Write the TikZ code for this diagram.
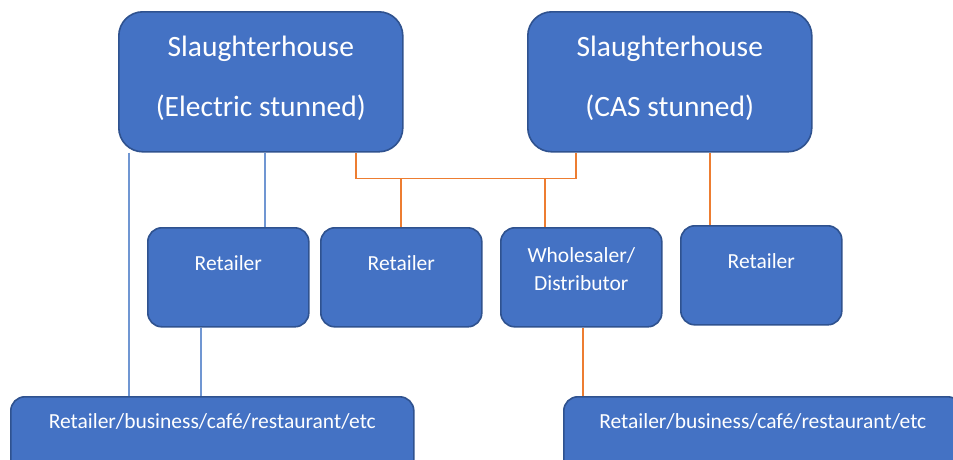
\documentclass[tikz,border=0pt]{standalone}
\usepackage{fontspec}
\setmainfont{Carlito}
\usetikzlibrary{positioning, calc}

\definecolor{boxfill}{HTML}{4472C4}
\definecolor{boxdraw}{HTML}{2F528F}
\definecolor{linkblue}{HTML}{7096D2}
\definecolor{linkorange}{HTML}{ED7D31}

\begin{document}
\begin{tikzpicture}[
    x=1pt, y=-1pt,
    box/.style={
        rectangle,
        fill=boxfill,
        draw=boxdraw,
        line width=1.6pt,
        text=white,
        inner sep=0pt,
        align=center,
        anchor=north west
    },
    plant/.style={
        box,
        rounded corners=24pt,
        minimum width=284pt,
        minimum height=140pt,
        font=\fontsize{29.5}{60}\selectfont,
        text height=105pt,
        text depth=35pt
    },
    shop/.style={
        box,
        rounded corners=14pt,
        minimum width=161pt,
        minimum height=99pt,
        font=\fontsize{21.5}{28}\selectfont,
        text height=43pt,
        text depth=56pt
    },
    outlet/.style={
        box,
        rounded corners=14pt,
        minimum width=403pt,
        minimum height=90pt,
        font=\fontsize{21.5}{28}\selectfont,
        text height=32pt,
        text depth=58pt
    },
    bluelink/.style={
        draw=linkblue,
        line width=1.2pt
    },
    orangelink/.style={
        draw=linkorange,
        line width=1.2pt
    }
]
    \clip (0,0) rectangle (953,459);

    % Slaughterhouses
    \node[plant] (sh1) at (118,11) {Slaughterhouse\\(Electric stunned)};
    \node[plant] (sh2) at (527,11) {Slaughterhouse\\(CAS stunned)};

    % Middle row
    \node[shop] (ret1) at (147,227) {Retailer};
    \node[shop] (ret2) at (320,227) {Retailer};
    \node[shop, text height=63pt, text depth=36pt] (who) at (500,227) {Wholesaler/\\Distributor};
    \node[shop] (ret3) at (680,225) {Retailer};

    % Bottom row
    \node[outlet] (bot1) at (10,396) {Retailer/business/café/restaurant/etc};
    \node[outlet, minimum width=398pt] (bot2) at (563,396) {Retailer/business/café/restaurant/etc};

    % Electric stunned links
    \draw[bluelink] (sh1.south west) ++(11,0) coordinate (b1) -- (b1 |- bot1.north);
    \draw[bluelink] (sh1.south west) ++(147,0) coordinate (b2) -- (b2 |- ret1.north);
    \draw[bluelink] (ret1.south west) ++(54,0) coordinate (b3) -- (b3 |- bot1.north);

    % CAS stunned links
    \draw[orangelink] (sh1.south west) ++(238,0) -- ++(0,26) coordinate (bus) -| ([xshift=49pt]sh2.south west);
    \draw[orangelink] (ret2.north west) ++(81,0) coordinate (o1) -- (o1 |- bus);
    \draw[orangelink] (who.north west) ++(45,0) coordinate (o2) -- (o2 |- bus);
    \draw[orangelink] (sh2.south west) ++(183,0) coordinate (o3) -- (o3 |- ret3.north);
    \draw[orangelink] (who.south west) ++(83,0) coordinate (o4) -- (o4 |- bot2.north);

\end{tikzpicture}
\end{document}
